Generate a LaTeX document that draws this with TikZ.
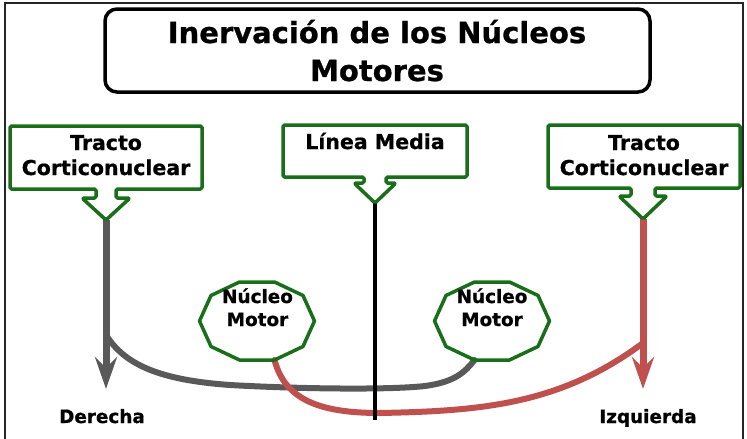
\documentclass[tikz,border=0pt]{standalone}
\usepackage{fontspec}
\setmainfont{DejaVu Sans}
\newfontfamily\heavy{DejaVu Sans Bold}[FakeBold=0.8]
\usetikzlibrary{arrows.meta}
\definecolor{grn}{RGB}{25,110,25}
\definecolor{gry}{RGB}{89,89,89}
\definecolor{rd}{RGB}{192,80,77}
\tikzset{
  ttl/.style={font=\heavy\fontsize{29}{38}\selectfont, inner sep=0pt, anchor=base},
  lbl/.style={font=\heavy\fontsize{20.5}{25}\selectfont, inner sep=0pt, anchor=base},
  nlbl/.style={font=\heavy\fontsize{18.4}{23}\selectfont, inner sep=0pt, anchor=base},
  callout/.style={draw=grn, line width=3.5pt, line join=round, fill=white, rounded corners=1.5pt},
  deca/.style={draw=grn, line width=3.5pt, line join=round},
  nerve/.style={line width=7pt},
  curvenerve/.style={line width=6pt, line cap=round},
  tip/.style={-{Stealth[length=32pt, width=22pt, inset=11pt]}},
}
\begin{document}
\begin{tikzpicture}[x=1pt,y=-1pt]
\useasboundingbox (0,0) rectangle (747,439);
% frame
\draw[line width=2pt, black!85] (5,439) -- (5,3) -- (743,3) -- (743,439);
% title
\draw[line width=3.5pt, rounded corners=12pt] (105,9) rectangle (650,92);
\node[ttl] (title1) at (377,43) {Inervación de los Núcleos};
\node[ttl] (title2) at (377,81) {Motores};
% named points
\coordinate (ltip) at (106,220);
\coordinate (mtip) at (375,203);
\coordinate (rtip) at (643,219);
\coordinate (lend) at (106,389);
\coordinate (rend) at (643,389);
\coordinate (mend) at (375,420);
\coordinate (gbranch) at (106,335);
\coordinate (rbranch) at (643,343);
\coordinate (ldec) at (274.5,360);
\coordinate (rdec) at (474.5,360);
% nerves
\draw[gry, nerve, tip] (ltip) -- (lend);
\draw[rd, nerve, tip] (rtip) -- (rend);
\draw[gry, curvenerve] (gbranch) .. controls (125,365) and (160,380) .. (230,385)
   .. controls (300,389) and (390,390) .. (425,386)
   .. controls (455,382) and (465,372) .. (rdec);
\draw[rd, curvenerve] (ldec) .. controls (285,400) and (320,413) .. (380,413)
   .. controls (480,411) and (560,405) .. (rbranch);
\draw[line width=4pt] (mtip) -- (mend);
% callouts
\draw[callout] (10,126) -- (202,126) -- (202,189) -- (116,189) -- (116,198) -- (130,198) -- (106,220) -- (82,198) -- (96,198) -- (96,189) -- (10,189) -- cycle;
\draw[callout] (283,125) -- (467,125) -- (467,177) -- (386,177) -- (386,183) -- (396,183) -- (375,203) -- (354,183) -- (364,183) -- (364,177) -- (283,177) -- cycle;
\draw[callout] (548,125) -- (740,125) -- (740,188) -- (655,188) -- (655,196) -- (667,196) -- (643,219) -- (619,196) -- (631,196) -- (631,188) -- (548,188) -- cycle;
\node[lbl] (lt1) at (106,150) {Tracto};
\node[lbl] (lt2) at (106,175) {Corticonuclear};
\node[lbl] (mt) at (375,149) {Línea Media};
\node[lbl] (rt1) at (644,150) {Tracto};
\node[lbl] (rt2) at (644,175) {Corticonuclear};
% nuclei
\draw[deca, shift={(257,321)}] (-17.5,-39) -- (17.5,-39) -- (46,-25.5) -- (57.5,0) -- (46,25.5) -- (17.5,39) -- (-17.5,39) -- (-46,25.5) -- (-57.5,0) -- (-46,-25.5) -- cycle;
\draw[deca, shift={(492,321)}] (-17.5,-39) -- (17.5,-39) -- (46,-25.5) -- (57.5,0) -- (46,25.5) -- (17.5,39) -- (-17.5,39) -- (-46,25.5) -- (-57.5,0) -- (-46,-25.5) -- cycle;
\node[nlbl] (ln1) at (257.5,303) {Núcleo};
\node[nlbl] (ln2) at (257.5,326) {Motor};
\node[nlbl] (rn1) at (492,303) {Núcleo};
\node[nlbl] (rn2) at (492,326) {Motor};
% sides
\node[nlbl] (der) at (102,423) {Derecha};
\node[nlbl] (izq) at (648,423) {Izquierda};
\end{tikzpicture}
\end{document}
